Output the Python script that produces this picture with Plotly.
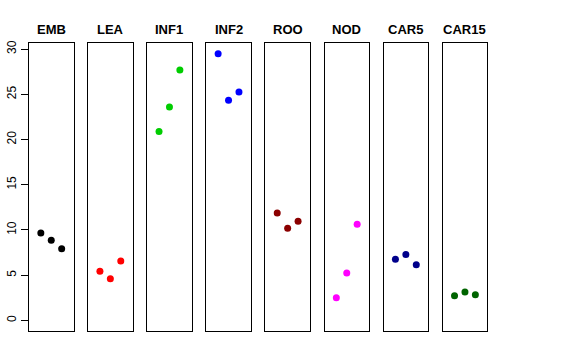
import plotly.graph_objects as go

categories = ["EMB", "LEA", "INF1", "INF2", "ROO", "NOD", "CAR5", "CAR15"]
reps = [1, 2, 3]
values = {
    "EMB": [9.67, 8.86, 7.93],
    "LEA": [5.42, 4.61, 6.57],
    "INF1": [20.9, 23.6, 27.7],
    "INF2": [29.5, 24.35, 25.27],
    "ROO": [11.88, 10.18, 10.96],
    "NOD": [2.51, 5.24, 10.63],
    "CAR5": [6.75, 7.27, 6.16],
    "CAR15": [2.73, 3.14, 2.84],
}
colors = ["#000000", "#FF0000", "#00CD00", "#0000FF", "#8B0000", "#FF00FF", "#00008B", "#006400"]
yticks = [0, 5, 10, 15, 20, 25, 30]

W, H = 576, 360
fig = go.Figure()
ymax = max(max(v) for v in values.values())
ylo, yhi = 0 - 0.04 * ymax, ymax + 0.04 * ymax
y_dom = [1 - 331 / H, 1 - 43 / H]

for i, cat in enumerate(categories):
    x0 = 29 + i * 59.1
    x1 = x0 + 44.5
    idx = "" if i == 0 else str(i + 1)
    fig.add_trace(go.Scatter(
        x=reps, y=values[cat], mode="markers",
        marker=dict(color=colors[i], size=7, line=dict(width=0)),
        xaxis="x" + idx, yaxis="y" + idx, showlegend=False,
    ))
    fig.layout["xaxis" + idx] = dict(
        domain=[x0 / W, x1 / W], range=[-0.136, 4.136], anchor="y" + idx,
        showgrid=False, zeroline=False, showticklabels=False, ticks="",
        showline=True, mirror=True, linecolor="#000000", linewidth=1,
        automargin=False,
    )
    yax = dict(
        domain=y_dom, range=[ylo, yhi], anchor="x" + idx,
        showgrid=False, zeroline=False,
        showline=True, mirror=True, linecolor="#000000", linewidth=1,
        automargin=False,
    )
    if i == 0:
        yax.update(tickvals=yticks, ticks="outside", ticklen=7, tickcolor="#000000",
                   tickangle=-90, tickfont=dict(family="Liberation Sans", size=12, color="#000000"))
    else:
        yax.update(showticklabels=False, ticks="")
    fig.layout["yaxis" + idx] = yax
    fig.add_annotation(
        x=(x0 + x1) / 2 / W, y=1 - 29 / H, xref="paper", yref="paper",
        text="<b>" + cat + "</b>", showarrow=False,
        font=dict(family="Liberation Sans", size=13, color="#000000"),
        xanchor="center", yanchor="middle",
    )

fig.update_layout(
    width=W, height=H, margin=dict(l=0, r=0, t=0, b=0, autoexpand=False),
    paper_bgcolor="white", plot_bgcolor="white",
)
fig.write_html("out.html", config={"displayModeBar": False},
               post_script="document.body.style.margin='0';document.body.style.overflow='hidden';")
